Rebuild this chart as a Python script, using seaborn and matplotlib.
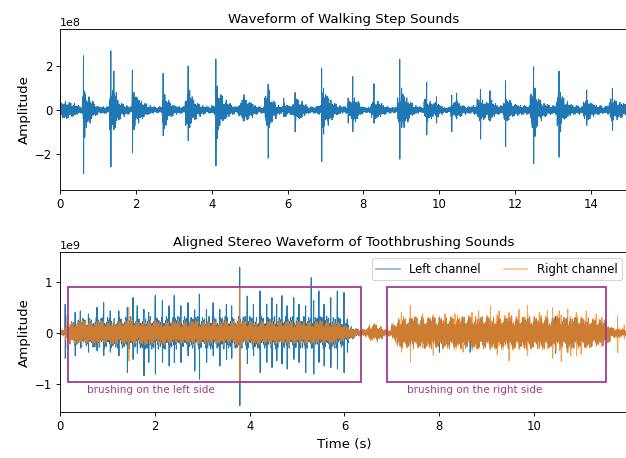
import numpy as np
import pandas as pd
import matplotlib
matplotlib.use("Agg")
import matplotlib.pyplot as plt
import seaborn as sns
from matplotlib.patches import Rectangle

# ---------------- data ----------------
BIN = 0.1  # seconds per envelope bin

# Walking steps: background envelope per 0.1 s bin (x1e8)
step_env = [
    0.35, 0.4, 0.35, 0.3, 0.2, 0.15, 0.8, 0.6, 0.4, 0.25,
    0.15, 0.15, 0.15, 0.9, 0.8, 0.45, 0.3, 0.2, 0.15, 0.8,
    0.6, 0.4, 0.3, 0.2, 0.15, 0.12, 0.15, 0.7, 0.45, 0.3,
    0.2, 0.15, 0.15, 0.7, 0.6, 0.45, 0.3, 0.2, 0.15, 0.15,
    0.2, 0.9, 0.7, 0.45, 0.3, 0.2, 0.15, 0.3, 0.5, 0.45,
    0.35, 0.2, 0.15, 0.15, 0.7, 0.6, 0.4, 0.2, 0.15, 0.3,
    0.2, 0.25, 0.5, 0.4, 0.25, 0.15, 0.15, 0.15, 0.2, 0.8,
    0.7, 0.45, 0.3, 0.2, 0.15, 0.15, 0.4, 0.55, 0.4, 0.2,
    0.12, 0.12, 0.35, 0.4, 0.3, 0.2, 0.15, 0.12, 0.12, 0.55,
    0.8, 0.55, 0.35, 0.2, 0.15, 0.12, 0.5, 0.4, 0.3, 0.35,
    0.2, 0.12, 0.12, 0.3, 0.4, 0.3, 0.2, 0.15, 0.15, 0.2,
    0.5, 0.45, 0.35, 0.45, 0.3, 0.2, 0.2, 0.5, 0.45, 0.3,
    0.25, 0.2, 0.2, 0.2, 0.8, 0.8, 0.5, 0.3, 0.25, 0.2,
    0.2, 0.8, 0.6, 0.4, 0.25, 0.2, 0.2, 0.15, 0.4, 0.45,
    0.3, 0.2, 0.2, 0.15, 0.2, 0.5, 0.45, 0.35, 0.3, 0.25,
]
# Walking steps: individual peaks (time s, max, min) x1e8
step_spike_t = [0.62, 0.65, 1.34, 1.42, 1.91, 1.95, 2.72, 2.75, 3.38, 3.42,
                4.11, 4.15, 4.85, 5.49, 5.52, 5.90, 6.20, 6.90, 6.95, 7.60,
                7.72, 8.28, 8.96, 9.01, 9.67, 9.93, 10.33, 10.46, 11.09, 11.34,
                11.75, 12.49, 12.53, 13.16, 13.20, 13.89, 14.57]
step_spike_hi = [2.47, 0.85, 2.70, 1.77, 1.82, 0.8, 1.67, 0.6, 2.0, 0.9,
                 2.32, 1.1, 0.7, 1.17, 0.9, 0.53, 0.8, 1.9, 1.0, 0.55,
                 1.52, 1.2, 2.3, 1.0, 1.26, 0.6, 0.68, 0.77, 0.94, 0.88,
                 1.33, 1.97, 1.0, 1.77, 0.8, 0.91, 0.98]
step_spike_lo = [-2.91, -1.25, -2.60, -0.9, -1.94, -0.9, -1.17, -0.85, -1.4, -0.8,
                 -2.55, -1.3, -0.5, -2.2, -0.8, -0.3, -1.0, -2.35, -1.1, -0.6,
                 -0.99, -0.6, -2.24, -0.8, -1.14, -0.6, -0.99, -0.4, -1.33, -0.5,
                 -1.67, -2.45, -1.2, -2.15, -1.0, -0.7, -0.94]

# Toothbrushing: background envelope per 0.1 s bin (x1e9)
left_env = [
    0.06, 0.12, 0.22, 0.25, 0.28, 0.25, 0.28, 0.3, 0.28, 0.3,
    0.3, 0.28, 0.3, 0.3, 0.32, 0.3, 0.3, 0.32, 0.3, 0.32,
    0.32, 0.3, 0.32, 0.3, 0.32, 0.3, 0.32, 0.3, 0.3, 0.32,
    0.3, 0.32, 0.3, 0.3, 0.32, 0.3, 0.3, 0.32, 0.3, 0.32,
    0.32, 0.3, 0.32, 0.3, 0.3, 0.32, 0.3, 0.32, 0.3, 0.32,
    0.3, 0.32, 0.3, 0.3, 0.32, 0.3, 0.32, 0.3, 0.3, 0.28,
    0.2, 0.12, 0.08, 0.06, 0.06, 0.12, 0.16, 0.12, 0.06, 0.05,
    0.15, 0.25, 0.28, 0.28, 0.3, 0.28, 0.3, 0.28, 0.3, 0.28,
    0.3, 0.28, 0.3, 0.28, 0.3, 0.3, 0.28, 0.3, 0.28, 0.3,
    0.3, 0.28, 0.3, 0.28, 0.3, 0.3, 0.28, 0.3, 0.28, 0.3,
    0.3, 0.28, 0.3, 0.28, 0.3, 0.28, 0.3, 0.28, 0.3, 0.28,
    0.28, 0.28, 0.26, 0.25, 0.24, 0.18, 0.1, 0.07, 0.06, 0.05,
]
right_env = [
    0.05, 0.15, 0.22, 0.22, 0.24, 0.22, 0.24, 0.22, 0.24, 0.22,
    0.22, 0.24, 0.22, 0.24, 0.26, 0.24, 0.22, 0.24, 0.22, 0.24,
    0.24, 0.22, 0.24, 0.22, 0.24, 0.22, 0.24, 0.22, 0.24, 0.22,
    0.24, 0.22, 0.24, 0.22, 0.24, 0.22, 0.24, 0.26, 0.24, 0.22,
    0.24, 0.22, 0.24, 0.22, 0.24, 0.22, 0.24, 0.22, 0.24, 0.22,
    0.24, 0.22, 0.24, 0.22, 0.24, 0.22, 0.24, 0.22, 0.2, 0.18,
    0.14, 0.1, 0.07, 0.06, 0.08, 0.16, 0.18, 0.12, 0.07, 0.07,
    0.18, 0.28, 0.32, 0.3, 0.32, 0.3, 0.32, 0.3, 0.32, 0.3,
    0.32, 0.3, 0.32, 0.34, 0.32, 0.3, 0.34, 0.32, 0.3, 0.32,
    0.34, 0.32, 0.3, 0.34, 0.32, 0.34, 0.32, 0.3, 0.34, 0.32,
    0.32, 0.34, 0.32, 0.3, 0.34, 0.32, 0.3, 0.32, 0.3, 0.32,
    0.3, 0.3, 0.28, 0.26, 0.25, 0.2, 0.1, 0.1, 0.08, 0.07,
]
left_spike_t = [0.11, 0.32, 0.43, 0.60, 0.78, 0.92, 1.06, 1.24, 1.42, 1.54,
                1.63, 1.77, 1.87, 2.01, 2.16, 2.30, 2.41, 2.55, 2.70, 2.84,
                2.94, 3.09, 3.23, 3.37, 3.51, 3.62, 3.79, 3.95, 4.08, 4.22,
                4.36, 4.47, 4.57, 4.68, 4.79, 4.93, 5.04, 5.18, 5.30, 5.35,
                5.46, 5.57, 5.71, 5.85, 5.99, 6.06, 8.00, 8.65, 10.45, 10.70]
left_spike_hi = [0.56, 0.40, 0.43, 0.37, 0.50, 0.59, 0.43, 0.43, 0.50, 0.69,
                 0.53, 0.46, 0.40, 0.73, 0.63, 0.53, 0.73, 0.53, 0.59, 0.45,
                 0.76, 0.46, 0.59, 0.46, 0.56, 0.53, 1.28, 0.72, 0.56, 0.82,
                 0.56, 0.69, 0.56, 0.73, 0.53, 0.69, 0.56, 0.53, 1.08, 0.63,
                 0.82, 0.56, 0.69, 0.82, 0.79, 0.27, 0.30, 0.30, 0.32, 0.30]
left_spike_lo = [-0.50, -0.45, -0.30, -0.38, -0.35, -0.45, -0.38, -0.45, -0.78, -0.52,
                 -0.40, -0.84, -0.58, -0.81, -0.58, -0.65, -0.58, -0.58, -0.45, -0.75,
                 -0.91, -0.58, -0.45, -0.65, -0.52, -0.50, -1.43, -0.60, -0.45, -0.78,
                 -0.58, -0.68, -0.55, -0.61, -0.71, -0.52, -0.58, -0.78, -0.30, -0.81,
                 -0.58, -0.65, -0.68, -0.71, -0.78, -0.38, -0.38, -0.38, -0.40, -0.38]
right_spike_t = [0.15, 1.45, 3.79, 7.20, 7.39, 7.65, 7.87, 8.12, 8.33, 8.50,
                 8.69, 8.83, 9.08, 9.22, 9.26, 9.47, 9.68, 9.86, 10.11, 10.28,
                 10.39, 10.53, 10.57, 10.71, 10.77, 10.89, 10.99, 11.10, 11.31, 11.43,
                 11.76, 11.90]
right_spike_hi = [0.35, 0.50, 0.87, 0.40, 0.54, 0.37, 0.35, 0.37, 0.37, 0.30,
                  0.40, 0.43, 0.53, 0.35, 0.43, 0.40, 0.46, 0.54, 0.40, 0.43,
                  0.49, 0.43, 0.35, 0.46, 0.30, 0.40, 0.30, 0.43, 0.37, 0.30,
                  0.33, 0.15]
right_spike_lo = [-0.30, -0.55, -0.94, -0.38, -0.57, -0.30, -0.44, -0.25, -0.20, -0.38,
                  -0.25, -0.32, -0.30, -0.43, -0.25, -0.55, -0.32, -0.45, -0.29, -0.32,
                  -0.50, -0.35, -0.56, -0.39, -0.45, -0.45, -0.42, -0.29, -0.25, -0.27,
                  -0.39, -0.12]

# annotated regions (start s, end s) and labels
region_start = [0.16, 6.90]
region_end = [6.35, 11.52]
region_label = ["brushing on the left side", "brushing on the right side"]
region_top = 0.89
region_bottom = -0.97

# fixed stroke texture inside one envelope bin (fractions of the bin's envelope)
STROKE = [1.0, 0.6, 0.8, 0.45, 0.9, 0.7, 0.55, 1.0, 0.75, 0.5]


def trace(env, sp_t, sp_hi, sp_lo, scale):
    """Draw each envelope bin as up/down strokes and insert read peaks."""
    n = len(STROKE)
    ts, ys = [], []
    for i, a in enumerate(env):
        for j in range(n):
            ts.append(i * BIN + (j + 0.5) * BIN / n)
            f = STROKE[(j + 3 * i) % n]
            ys.append(a * f if j % 2 == 0 else -a * f)
    for t, h, l in zip(sp_t, sp_hi, sp_lo):
        ts += [t, t + BIN / (4 * n)]
        ys += [h, l]
    ts = np.array(ts)
    ys = np.array(ys)
    order = np.argsort(ts, kind="stable")
    return pd.DataFrame({"t": ts[order], "amp": ys[order] * scale})


DPI = 80
fig = plt.figure(figsize=(626 / DPI, 458 / DPI), dpi=DPI)
ax1 = fig.add_axes([60 / 626, 1 - 190 / 458, 568 / 626, 160.7 / 458])
ax2 = fig.add_axes([60 / 626, 1 - 412.3 / 458, 568 / 626, 160 / 458])

blue = "#1f77b4"
orange = "#ff7f0e"
box_col = "#a03a8e"

# ---- top: walking steps ----
df_step = trace(step_env, step_spike_t, step_spike_hi, step_spike_lo, 1e8)
sns.lineplot(data=df_step, x="t", y="amp", ax=ax1, sort=False, estimator=None,
             color=blue, lw=0.9, legend=False)
ax1.set_xlim(0, 14.98)
ax1.set_ylim(-3.65e8, 3.68e8)
ax1.set_xticks([0, 2, 4, 6, 8, 10, 12, 14])
ax1.set_yticks([-2e8, 0, 2e8])
ax1.set_title("Waveform of Walking Step Sounds", fontsize=12)
ax1.set_xlabel("")
ax1.set_ylabel("Amplitude", fontsize=12)

# ---- bottom: toothbrushing ----
df_left = trace(left_env, left_spike_t, left_spike_hi, left_spike_lo, 1e9)
df_right = trace(right_env, right_spike_t, right_spike_hi, right_spike_lo, 1e9)
sns.lineplot(data=df_left, x="t", y="amp", ax=ax2, sort=False, estimator=None,
             color=blue, lw=0.95, label="Left channel")
sns.lineplot(data=df_right, x="t", y="amp", ax=ax2, sort=False, estimator=None,
             color=orange, lw=0.85, alpha=0.78, label="Right channel")

for s, e, lab in zip(region_start, region_end, region_label):
    ax2.add_patch(Rectangle((s, region_bottom * 1e9), e - s,
                            (region_top - region_bottom) * 1e9,
                            fill=False, edgecolor=box_col, lw=1.6, zorder=5))
    ax2.text(s + 0.42, -1.12e9, lab, color=box_col, fontsize=9.4,
             ha="left", va="center")

ax2.set_xlim(0, 11.98)
ax2.set_ylim(-1.56e9, 1.58e9)
ax2.set_xticks([0, 2, 4, 6, 8, 10])
ax2.set_yticks([-1e9, 0, 1e9])
ax2.set_title("Aligned Stereo Waveform of Toothbrushing Sounds", fontsize=12)
ax2.set_xlabel("Time (s)", fontsize=12)
ax2.set_ylabel("Amplitude", fontsize=12)
leg = ax2.legend(loc="upper right", ncol=2, fontsize=10.5)
for h, a in zip(leg.get_lines(), [0.55, 0.5]):
    h.set_linewidth(1.5)
    h.set_alpha(a)

for ax in (ax1, ax2):
    ax.tick_params(labelsize=10.5)

fig.savefig("out.png", dpi=DPI)
